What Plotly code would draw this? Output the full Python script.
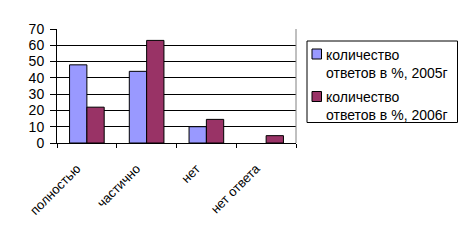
import plotly.graph_objects as go

categories = ["полностью", "частично", "нет", "нет ответа"]
series_2005 = [48, 44, 10, None]
series_2006 = [22, 63, 14.5, 4.5]
names = ["количество<br>ответов в %, 2005г", "количество<br>ответов в %, 2006г"]
colors = ["#9999FF", "#993366"]
y_ticks = [0, 10, 20, 30, 40, 50, 60, 70]

W, H = 469, 241
L, R, T, B = 57, 173, 29, 98
PW, PH = W - L - R, H - T - B


def px(x):
    return (x - L) / PW


def py(y):
    return (H - B - y) / PH


fig = go.Figure()
for vals, name, col in zip([series_2005, series_2006], names, colors):
    fig.add_trace(go.Bar(x=categories, y=vals, name=name,
                         marker=dict(color=col, line=dict(color="black", width=1))))

font = dict(family="Liberation Sans, Arial, sans-serif", size=13, color="black")
lfont = dict(family="Liberation Sans, Arial, sans-serif", size=14, color="black")
fig.update_layout(
    width=W, height=H,
    margin=dict(l=L, r=R, t=T, b=B),
    paper_bgcolor="white", plot_bgcolor="white",
    font=font,
    barmode="group", bargap=0.42, bargroupgap=0,
    showlegend=False,
)
fig.update_xaxes(type="category", tickangle=-45, showline=True, linecolor="black",
                 linewidth=1, ticks="outside", ticklen=4, tickcolor="black",
                 tickson="boundaries", showgrid=False, tickfont=font,
                 ticklabelstandoff=12, ticklabelshift=-10)
fig.update_yaxes(range=[0, 70], tickvals=y_ticks, showline=True, linecolor="black",
                 linewidth=1, ticks="outside", ticklen=6, tickcolor="black",
                 showgrid=True, gridcolor="black", gridwidth=1, zeroline=False,
                 tickfont=dict(family="Liberation Sans, Arial, sans-serif", size=14, color="black"),
                 ticklabelstandoff=3)
fig.add_shape(type="line", xref="paper", yref="paper", x0=1, x1=1, y0=0, y1=1,
              line=dict(color="#808080", width=1))

# custom legend
fig.add_shape(type="rect", xref="paper", yref="paper",
              x0=px(307), x1=px(457.5), y0=py(41), y1=py(122.5),
              line=dict(color="black", width=1), fillcolor="white")
for i, (name, col) in enumerate(zip(names, colors)):
    top = 49 + i * 42.5
    fig.add_shape(type="rect", xref="paper", yref="paper",
                  x0=px(312), x1=px(321.5), y0=py(top), y1=py(top + 10),
                  line=dict(color="black", width=1), fillcolor=col)
    fig.add_annotation(xref="paper", yref="paper", x=px(324), y=py(64 + i * 41.5),
                       xanchor="left", yanchor="middle", align="left",
                       text=name, showarrow=False, font=lfont)

fig.write_html("out.html")
